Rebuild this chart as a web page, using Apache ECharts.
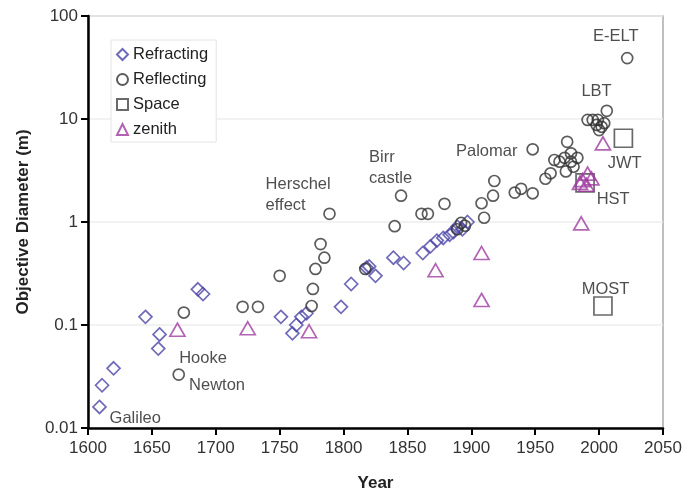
<!DOCTYPE html>
<html>
<head>
<meta charset="utf-8">
<script src="https://cdn.jsdelivr.net/npm/echarts@6/dist/echarts.min.js"></script>
<style>
  html, body { margin: 0; padding: 0; background: #fff; }
  #chart { width: 696px; height: 493px; }
</style>
</head>
<body>
<div id="chart"></div>
<script>
// Telescope objective diameter vs year, log scale, four instrument families.
const refractingYear = [1609, 1611, 1620, 1645, 1656, 1655, 1686, 1690, 1751, 1760, 1763, 1767, 1771, 1798, 1806, 1818, 1820, 1825, 1839, 1847, 1862, 1868, 1873, 1878, 1883, 1886, 1889, 1893, 1897];
const refractingDiam = [0.016, 0.026, 0.038, 0.12, 0.081, 0.059, 0.222, 0.2, 0.12, 0.083, 0.1, 0.12, 0.13, 0.15, 0.25, 0.36, 0.37, 0.30, 0.45, 0.40, 0.50, 0.58, 0.66, 0.70, 0.75, 0.80, 0.90, 0.85, 1.0];

const reflectingYear = [1671, 1675, 1721, 1733, 1750, 1775, 1776, 1778, 1782, 1785, 1789, 1817, 1840, 1845, 1861, 1866, 1879, 1889, 1892, 1895, 1908, 1910, 1917, 1918, 1934, 1939, 1948, 1948, 1958, 1962, 1965, 1969, 1973, 1974, 1975, 1978, 1978, 1980, 1983, 1991, 1995, 1999, 1998, 2000, 2002, 2004, 2006, 2022];
const reflectingDiam = [0.033, 0.132, 0.15, 0.15, 0.30, 0.153, 0.224, 0.35, 0.61, 0.45, 1.2, 0.35, 0.91, 1.8, 1.2, 1.2, 1.5, 0.85, 0.98, 0.92, 1.52, 1.1, 1.8, 2.5, 1.93, 2.1, 1.9, 5.08, 2.63, 2.97, 4.0, 3.85, 4.2, 3.1, 6.0, 3.85, 4.64, 3.44, 4.2, 9.8, 9.8, 9.8, 8.75, 7.8, 8.4, 9.1, 12, 39];

const spaceYear = [1989, 2019, 2003];
const spaceDiam = [2.4, 6.5, 0.153];

const zenithYear = [1670, 1725, 1773, 1872, 1908, 1908, 1986, 1985, 1987, 1990, 1991, 1994, 2003];
const zenithDiam = [0.09, 0.093, 0.087, 0.34, 0.5, 0.175, 0.97, 2.4, 2.55, 2.3, 2.95, 2.65, 5.8];

// Text notes: centre of single-line labels, left edge of two-line ones.
const noteText = ['Galileo', 'Hooke', 'Newton', 'Herschel\neffect', 'Birr\ncastle', 'Palomar', 'E-ELT', 'LBT', 'JWT', 'HST', 'MOST'];
const noteYear = [1637, 1690, 1701, 1739, 1820, 1912, 2013, 1998, 2020, 2011, 2005];
const noteDiam = [0.0124, 0.0475, 0.0257, 1.83, 3.34, 4.89, 64, 18.7, 3.73, 1.64, 0.222];

const FONT = '"Liberation Sans", Arial, sans-serif';
const pts = (xs, ys) => xs.map((x, i) => [x, ys[i]]);
const hollow = (color) => ({ color: 'rgba(0,0,0,0)', borderColor: color, borderWidth: 1.7 });

const chart = echarts.init(document.getElementById('chart'), null, { renderer: 'canvas' });

chart.setOption({
  animation: false,
  textStyle: { fontFamily: FONT },
  grid: {
    left: 88, right: 33, top: 16, bottom: 65,
    outerBoundsMode: 'none',
    show: true, borderColor: '#aaa', borderWidth: 1.5,
  },
  legend: {
    orient: 'vertical', left: 111, top: 40,
    padding: [6, 8, 4, 5],
    backgroundColor: '#fff', borderColor: '#e4e4e4', borderWidth: 1,
    itemWidth: 11, itemHeight: 11, itemGap: 8,
    textStyle: { color: '#222', fontSize: 16.5, fontFamily: FONT },
    data: ['Refracting', 'Reflecting', 'Space', 'zenith'],
  },
  xAxis: {
    type: 'value', min: 1600, max: 2050, interval: 50,
    name: 'Year', nameLocation: 'middle', nameGap: 47,
    nameTextStyle: { color: '#222', fontSize: 17, fontWeight: 'bold' },
    axisLine: { lineStyle: { color: '#000', width: 2.5 } },
    axisTick: { inside: false, length: 7, lineStyle: { color: '#000', width: 2 } },
    axisLabel: { color: '#333', fontSize: 17, margin: 12, formatter: (v) => String(v) },
    splitLine: { show: false },
  },
  yAxis: {
    type: 'log', logBase: 10, min: 0.01, max: 100,
    name: 'Objective Diameter (m)', nameLocation: 'middle', nameGap: 56,
    nameTextStyle: { color: '#222', fontSize: 17, fontWeight: 'bold' },
    axisLine: { lineStyle: { color: '#000', width: 2.5 } },
    axisTick: { inside: false, length: 7, lineStyle: { color: '#000', width: 2 } },
    axisLabel: { color: '#333', fontSize: 17, margin: 10, formatter: (v) => String(parseFloat(v.toPrecision(6))) },
    splitLine: { lineStyle: { color: '#eeeeee', width: 1.5 } },
    minorTick: { show: false },
  },
  series: [
    {
      name: 'Refracting', type: 'scatter', symbol: 'diamond', symbolSize: 13,
      itemStyle: hollow('#4b45a6'), data: pts(refractingYear, refractingDiam),
    },
    {
      name: 'Reflecting', type: 'scatter', symbol: 'circle', symbolSize: 11,
      itemStyle: hollow('#333'), data: pts(reflectingYear, reflectingDiam),
    },
    {
      name: 'Space', type: 'scatter', symbol: 'rect', symbolSize: 18,
      itemStyle: hollow('#444'), data: pts(spaceYear, spaceDiam),
    },
    {
      name: 'zenith', type: 'scatter', symbol: 'triangle', symbolSize: [15, 13],
      itemStyle: hollow('#a03ca0'), data: pts(zenithYear, zenithDiam),
    },
    {
      name: 'notes', type: 'scatter', symbolSize: 0, silent: true, z: 5,
      data: noteText.map((t, i) => ({
        value: [noteYear[i], noteDiam[i]], name: t,
        label: t.includes('\n') ? { align: 'left' } : {},
      })),
      label: {
        show: true, position: 'inside', formatter: (p) => p.name,
        color: '#222', fontSize: 16.5, lineHeight: 21, fontFamily: FONT,
        align: 'center', verticalAlign: 'middle',
      },
    },
  ],
});
</script>
</body>
</html>
